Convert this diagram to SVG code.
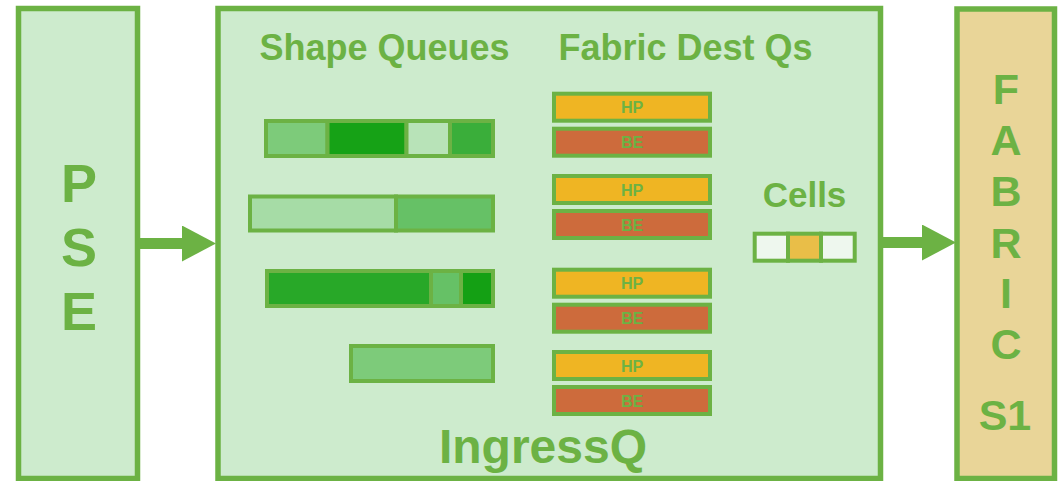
<svg xmlns="http://www.w3.org/2000/svg" width="1059" height="481" viewBox="0 0 1059 481">
  <style>
    .box { stroke: #6CB244; stroke-width: 5.5; }
    .seg { stroke: #6CB244; stroke-width: 4; }
    .lbl { font-family: "Liberation Sans", Arial, sans-serif; font-weight: bold; fill: #6CB244; text-anchor: middle; }
    .hp { fill: #EFB523; }
    .be { fill: #CD6B3C; }
    .q  { font-size: 16px; }
  </style>
  <defs>
    <marker id="head" markerUnits="userSpaceOnUse" markerWidth="34" markerHeight="36" refX="0" refY="18" orient="auto">
      <path d="M0,0 L34,18 L0,36 Z" fill="#6CB244"/>
    </marker>
  </defs>

  <rect width="1059" height="481" fill="#FFFFFF"/>

  <!-- source block -->
  <g id="pse">
    <rect class="box" x="18.5" y="8.5" width="119" height="470" fill="#CDEBCD"/>
    <text class="lbl" x="79" y="202" font-size="54">P</text>
    <text class="lbl" x="79" y="266" font-size="54">S</text>
    <text class="lbl" x="79" y="330" font-size="54">E</text>
  </g>

  <!-- ingress queueing block -->
  <g id="ingressq">
    <rect class="box" x="218" y="8.5" width="662.5" height="470" fill="#CDEBCD"/>
    <text class="lbl" x="384.5" y="60" font-size="36">Shape Queues</text>
    <text class="lbl" x="685.5" y="60" font-size="36">Fabric Dest Qs</text>
    <text class="lbl" x="543" y="463" font-size="48">IngressQ</text>
  </g>

  <!-- shape queues -->
  <g id="shape-q1">
    <rect class="seg" x="266" y="121" width="61.5" height="35" fill="#7DCB7A"/>
    <rect class="seg" x="327.5" y="121" width="79" height="35" fill="#16A216"/>
    <rect class="seg" x="406.5" y="121" width="43.5" height="35" fill="#B8E3B8"/>
    <rect class="seg" x="450" y="121" width="43" height="35" fill="#3AAE3A"/>
  </g>
  <g id="shape-q2">
    <rect class="seg" x="250" y="196.5" width="146" height="34" fill="#A6DCA6"/>
    <rect class="seg" x="396" y="196.5" width="97" height="34" fill="#66C166"/>
  </g>
  <g id="shape-q3">
    <rect class="seg" x="267" y="271" width="164" height="35" fill="#28A828"/>
    <rect class="seg" x="431" y="271" width="30" height="35" fill="#66C166"/>
    <rect class="seg" x="461" y="271" width="32" height="35" fill="#14A014"/>
  </g>
  <g id="shape-q4">
    <rect class="seg" x="351" y="346" width="142" height="35" fill="#7DCB7A"/>
  </g>

  <!-- fabric destination queues -->
  <g id="dest-q1">
    <rect class="seg hp" x="554" y="93.7" width="156" height="27"/>
    <text class="lbl q" x="632" y="113.2">HP</text>
    <rect class="seg be" x="554" y="128.7" width="156" height="27"/>
    <text class="lbl q" x="632" y="148.2">BE</text>
  </g>
  <g id="dest-q2">
    <rect class="seg hp" x="554" y="176" width="156" height="27"/>
    <text class="lbl q" x="632" y="195.5">HP</text>
    <rect class="seg be" x="554" y="211" width="156" height="27"/>
    <text class="lbl q" x="632" y="230.5">BE</text>
  </g>
  <g id="dest-q3">
    <rect class="seg hp" x="554" y="269.7" width="156" height="27"/>
    <text class="lbl q" x="632" y="289.2">HP</text>
    <rect class="seg be" x="554" y="304.7" width="156" height="27"/>
    <text class="lbl q" x="632" y="324.2">BE</text>
  </g>
  <g id="dest-q4">
    <rect class="seg hp" x="554" y="352" width="156" height="27"/>
    <text class="lbl q" x="632" y="371.5">HP</text>
    <rect class="seg be" x="554" y="387" width="156" height="27"/>
    <text class="lbl q" x="632" y="406.5">BE</text>
  </g>

  <!-- cells -->
  <g id="cells">
    <text class="lbl" x="804.5" y="206.5" font-size="35">Cells</text>
    <rect class="seg" x="754.7" y="233.7" width="33.3" height="27" fill="#EEF7EE"/>
    <rect class="seg" x="788" y="233.7" width="33" height="27" fill="#E9BE48"/>
    <rect class="seg" x="821" y="233.7" width="33.7" height="27" fill="#EEF7EE"/>
  </g>

  <!-- switch fabric block -->
  <g id="fabric">
    <rect class="box" x="957" y="9" width="97.5" height="469.5" fill="#E9D598"/>
    <text class="lbl" x="1006" y="104" font-size="43">F</text>
    <text class="lbl" x="1006" y="155" font-size="43">A</text>
    <text class="lbl" x="1006" y="206" font-size="43">B</text>
    <text class="lbl" x="1006" y="258" font-size="43">R</text>
    <text class="lbl" x="1006" y="308" font-size="43">I</text>
    <text class="lbl" x="1006" y="359" font-size="43">C</text>
    <text class="lbl" x="1005" y="430" font-size="43">S1</text>
  </g>

  <!-- connectors -->
  <g id="connectors" stroke="#6CB244" stroke-width="11" fill="none">
    <line x1="140" y1="243.5" x2="182" y2="243.5" marker-end="url(#head)"/>
    <line x1="883" y1="242.5" x2="922" y2="242.5" marker-end="url(#head)"/>
  </g>
</svg>
